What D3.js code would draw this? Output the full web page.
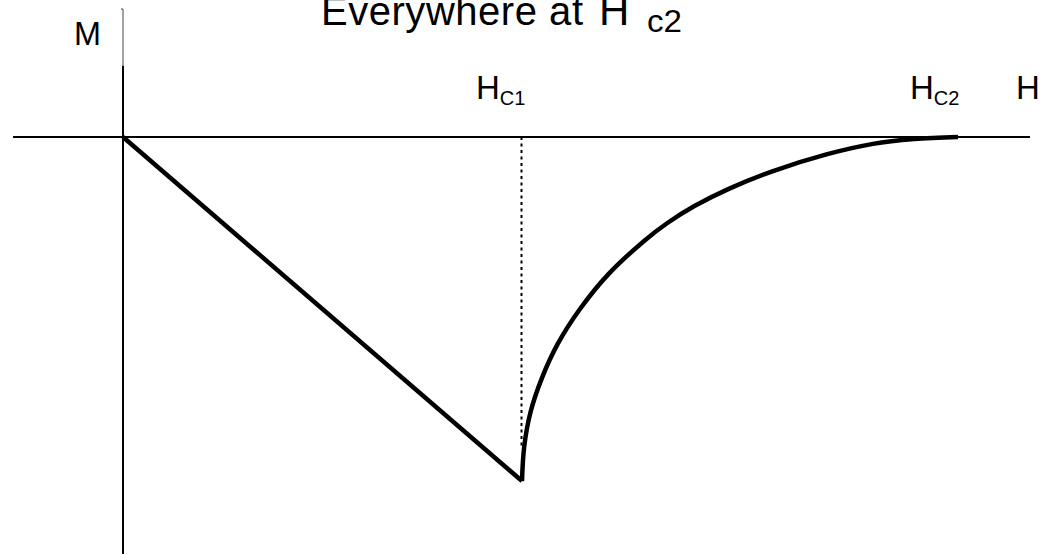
<!DOCTYPE html>
<html>
<head>
<meta charset="utf-8">
<script src="https://cdn.jsdelivr.net/npm/d3@7"></script>
<style>
  html, body { margin: 0; padding: 0; background: #fff; }
  svg { display: block; }
  text { font-family: "Liberation Sans", Arial, sans-serif; fill: #000; }
</style>
</head>
<body>
<svg id="chart" width="1051" height="555"></svg>
<script>
// Magnetization of a type-II superconductor versus applied field (arbitrary units)
const H_C1 = 3.99;
const H_C2 = 8.35;
const M_MIN = -1.0;

// Meissner state: M = -H up to the lower critical field
const meissnerH = [0, H_C1];
const meissnerM = [0, M_MIN];

// Mixed (vortex) state between H_c1 and H_c2
const mixedH = [3.99, 4.012, 4.075, 4.19, 4.35, 4.57, 4.85, 5.22, 5.444, 5.719, 6.063, 6.493, 7.043, 7.50, 7.91, 8.35];
const mixedM = [-1.0, -0.9, -0.8, -0.7, -0.6, -0.5, -0.4, -0.3, -0.25, -0.2, -0.15, -0.1, -0.05, -0.02, -0.006, 0];

// Axis extents
const hExtent = [-1.1, 9.07];
const mExtent = [0.372, -1.212];
const mAxisBreak = 0.207; // upper end of the heavy part of the M axis

const svg = d3.select("#chart");

const x = d3.scaleLinear().domain(hExtent).range([13, 1030]);
const y = d3.scaleLinear().domain(mExtent).range([9, 554]);

const line = d3.line().x(d => x(d[0])).y(d => y(d[1]));

// H axis
svg.append("line")
  .attr("x1", x(hExtent[0])).attr("x2", x(hExtent[1]))
  .attr("y1", y(0)).attr("y2", y(0))
  .attr("stroke", "#000").attr("stroke-width", 2);

// M axis: light upper part, heavy lower part
svg.append("path")
  .attr("d", `M${x(0) - 2},${y(mExtent[0])}H${x(0)}V${y(mAxisBreak)}`)
  .attr("fill", "none").attr("stroke", "#444").attr("stroke-width", 1);
svg.append("line")
  .attr("x1", x(0)).attr("x2", x(0))
  .attr("y1", y(mAxisBreak)).attr("y2", y(mExtent[1]))
  .attr("stroke", "#000").attr("stroke-width", 2);

// Dotted marker at H_c1
svg.append("line")
  .attr("x1", x(H_C1) - 0.5).attr("x2", x(H_C1) - 0.5)
  .attr("y1", y(0)).attr("y2", y(-0.9))
  .attr("stroke", "#000").attr("stroke-width", 2)
  .attr("stroke-dasharray", "3,3.5");

// Meissner branch
svg.append("path")
  .datum(meissnerH.map((h, i) => [h, meissnerM[i]]))
  .attr("d", line)
  .attr("fill", "none").attr("stroke", "#000").attr("stroke-width", 4.5);

// Mixed-state branch
svg.append("path")
  .datum(mixedH.map((h, i) => [h, mixedM[i]]))
  .attr("d", line.curve(d3.curveCatmullRom.alpha(0.5)))
  .attr("fill", "none").attr("stroke", "#000").attr("stroke-width", 4.5);

// Title
svg.append("text")
  .attr("x", 321).attr("y", 25)
  .attr("font-size", 40)
  .attr("textLength", 262).attr("lengthAdjust", "spacing")
  .text("Everywhere at");
svg.append("text")
  .attr("x", 599).attr("y", 25)
  .attr("font-size", 42)
  .text("H");
svg.append("text")
  .attr("x", 647).attr("y", 32)
  .attr("font-size", 31)
  .attr("textLength", 35).attr("lengthAdjust", "spacingAndGlyphs")
  .text("c2");

// Axis labels
svg.append("text")
  .attr("x", 74).attr("y", 45)
  .attr("font-size", 33)
  .attr("textLength", 27).attr("lengthAdjust", "spacingAndGlyphs")
  .text("M");
svg.append("text")
  .attr("x", 1016).attr("y", 99)
  .attr("font-size", 33)
  .text("H");

// Critical field labels
function fieldLabel(xLeft, sub) {
  const t = svg.append("text").attr("x", xLeft).attr("y", 99).attr("font-size", 33);
  t.append("tspan").text("H");
  t.append("tspan").attr("font-size", 20).attr("dy", 6).text(sub);
}
fieldLabel(x(H_C1) - 46, "C1");
fieldLabel(x(H_C2) - 48, "C2");
</script>
</body>
</html>
